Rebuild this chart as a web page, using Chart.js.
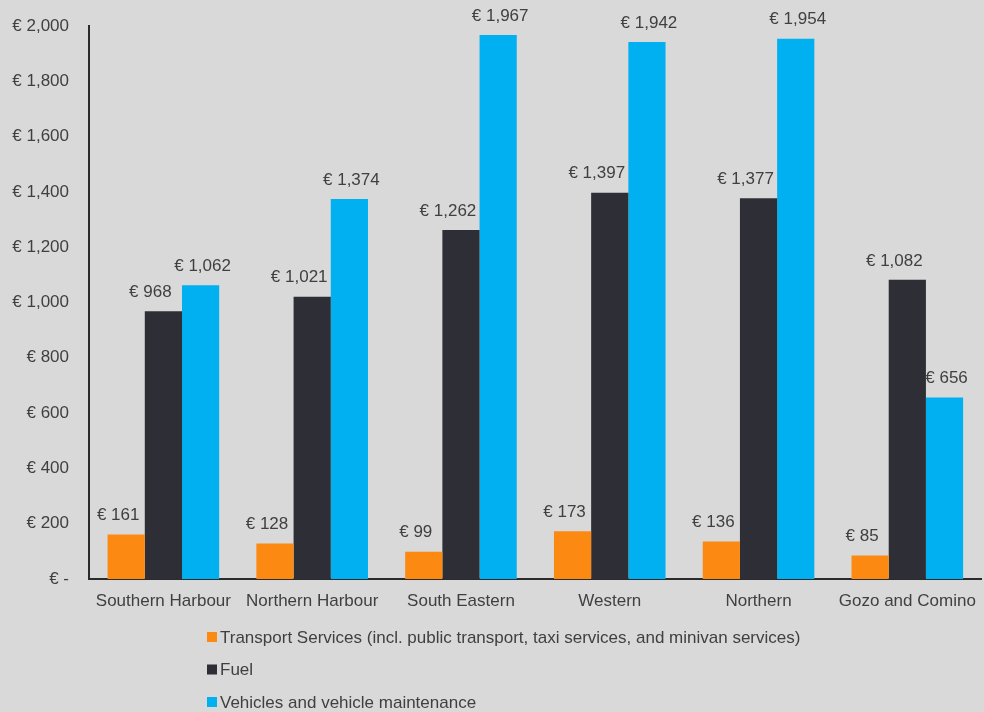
<!DOCTYPE html>
<html>
<head>
<meta charset="utf-8">
<script src="https://cdn.jsdelivr.net/npm/chart.js@4"></script>
<style>
  html, body { margin: 0; padding: 0; background: #d9d9d9; overflow: hidden; }
  #wrap { width: 984px; height: 712px; overflow: hidden; }
</style>
</head>
<body>
<div id="wrap"><canvas id="chart" width="988" height="712"></canvas></div>
<script>
const regions = ["Southern Harbour", "Northern Harbour", "South Eastern", "Western", "Northern", "Gozo and Comino"];
const transport = [161, 128, 99, 173, 136, 85];
const fuel = [968, 1021, 1262, 1397, 1377, 1082];
const vehicles = [1062, 1374, 1967, 1942, 1954, 656];
const seriesNames = [
  "Transport Services (incl. public transport, taxi services, and minivan services)",
  "Fuel",
  "Vehicles and vehicle maintenance"
];
const yTicks = [0, 200, 400, 600, 800, 1000, 1200, 1400, 1600, 1800, 2000];

const textColor = "#404040";
const fontFamily = "'Liberation Sans', Arial, sans-serif";
const fontSize = 17;

const euro = (v) => (v === 0 ? "€ -" : "€ " + v.toLocaleString("en-US"));

// value labels over each bar, nudged sideways a little per series
const labelShift = [-8, -13, 2];
const valueLabels = {
  id: "valueLabels",
  afterDatasetsDraw(chart) {
    const ctx = chart.ctx;
    ctx.save();
    ctx.font = fontSize + "px " + fontFamily;
    ctx.fillStyle = textColor;
    ctx.textAlign = "center";
    ctx.textBaseline = "middle";
    chart.data.datasets.forEach((ds, i) => {
      chart.getDatasetMeta(i).data.forEach((bar, j) => {
        ctx.fillText(euro(ds.data[j]), bar.x + labelShift[i], bar.y - 19);
      });
    });
    ctx.restore();
  }
};

// stacked legend under the axis, one series per line
const sideLegend = {
  id: "sideLegend",
  afterDraw(chart) {
    const ctx = chart.ctx;
    const left = 207;
    const top = chart.chartArea.bottom + 58;
    ctx.save();
    ctx.font = fontSize + "px " + fontFamily;
    ctx.textBaseline = "middle";
    chart.data.datasets.forEach((ds, i) => {
      const y = top + i * 32.5;
      ctx.fillStyle = ds.backgroundColor;
      ctx.fillRect(left, y - 5, 10, 10);
      ctx.fillStyle = textColor;
      ctx.fillText(ds.label, left + 13, y + 1);
    });
    ctx.restore();
  }
};

const ctx = document.getElementById("chart").getContext("2d");

new Chart(ctx, {
  type: "bar",
  data: {
    labels: regions,
    datasets: [
      { label: seriesNames[0], data: transport, backgroundColor: "#fb8912" },
      { label: seriesNames[1], data: fuel, backgroundColor: "#2e2f36" },
      { label: seriesNames[2], data: vehicles, backgroundColor: "#00b0f0" }
    ]
  },
  options: {
    responsive: false,
    animation: false,
    layout: { padding: { top: 26, right: 2, left: 0, bottom: 0 } },
    datasets: {
      bar: { categoryPercentage: 0.75, barPercentage: 1 }
    },
    plugins: {
      legend: { display: false },
      tooltip: { enabled: false }
    },
    scales: {
      x: {
        grid: { display: false, drawTicks: false },
        border: { color: "#2b2b2b", width: 2 },
        ticks: {
          color: textColor,
          font: { size: fontSize, family: fontFamily },
          padding: 12,
          maxRotation: 0,
          autoSkip: false
        },
        afterFit: (scale) => { scale.height = 133; }
      },
      y: {
        min: 0,
        max: 2000,
        afterBuildTicks: (scale) => { scale.ticks = yTicks.map((v) => ({ value: v })); },
        grid: { display: false, drawTicks: false },
        border: { color: "#2b2b2b", width: 2 },
        ticks: {
          color: textColor,
          font: { size: fontSize, family: fontFamily },
          padding: 20,
          callback: (v) => euro(v)
        },
        afterFit: (scale) => {
          scale.width = 89;
          // top of the axis is set by layout padding, not by tick padding
          scale.paddingTop = 0;
        }
      }
    }
  },
  plugins: [valueLabels, sideLegend]
});
</script>
</body>
</html>
